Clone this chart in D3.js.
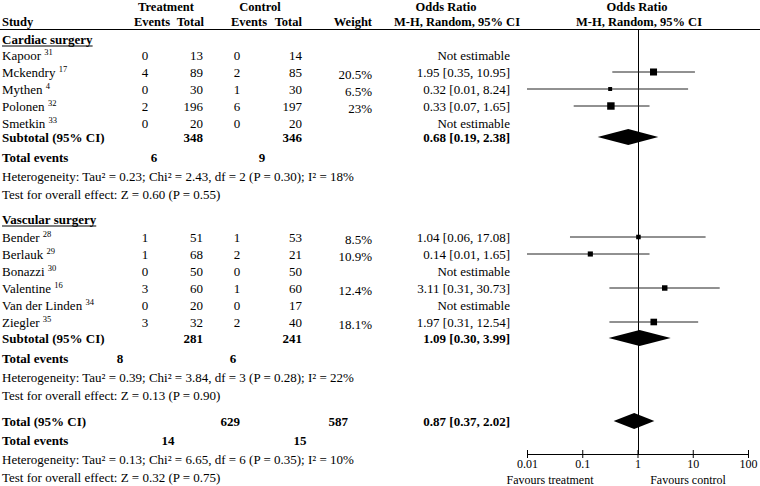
<!DOCTYPE html>
<html><head><meta charset="utf-8">
<script src="https://cdn.jsdelivr.net/npm/d3@7"></script>
<style>
html,body{margin:0;padding:0;background:#fff;}
svg text{font-family:"Liberation Serif","Times New Roman",serif;font-size:13px;fill:#000;}
.b{font-weight:bold;}
.h{font-size:12.5px;}
</style></head>
<body><svg id="c" width="760" height="486" font-family="Liberation Serif, Times New Roman, serif"></svg>
<script>
// ---- data ----
const cardiacStudies = ["Kapoor","Mckendry","Mythen","Polonen","Smetkin"];
const cardiacRefs = ["31","17","4","32","33"];
const cardiacTreatEvents = [0,4,0,2,0];
const cardiacTreatTotal = [13,89,30,196,20];
const cardiacCtrlEvents = [0,2,1,6,0];
const cardiacCtrlTotal = [14,85,30,197,20];
const cardiacWeight = [null,20.5,6.5,23,null];
const cardiacOR = [null,1.95,0.32,0.33,null];
const cardiacLo = [null,0.35,0.01,0.07,null];
const cardiacHi = [null,10.95,8.24,1.65,null];
const cardiacSubtotal = {treatTotal:348, ctrlTotal:346, treatEvents:6, ctrlEvents:9, or:0.68, lo:0.19, hi:2.38,
  het:"Heterogeneity: Tau² = 0.23; Chi² = 2.43, df = 2 (P = 0.30); I² = 18%",
  test:"Test for overall effect: Z = 0.60 (P = 0.55)"};

const vascularStudies = ["Bender","Berlauk","Bonazzi","Valentine","Van der Linden","Ziegler"];
const vascularRefs = ["28","29","30","16","34","35"];
const vascularTreatEvents = [1,1,0,3,0,3];
const vascularTreatTotal = [51,68,50,60,20,32];
const vascularCtrlEvents = [1,2,0,1,0,2];
const vascularCtrlTotal = [53,21,50,60,17,40];
const vascularWeight = [8.5,10.9,null,12.4,null,18.1];
const vascularOR = [1.04,0.14,null,3.11,null,1.97];
const vascularLo = [0.06,0.01,null,0.31,null,0.31];
const vascularHi = [17.08,1.65,null,30.73,null,12.54];
const vascularSubtotal = {treatTotal:281, ctrlTotal:241, treatEvents:8, ctrlEvents:6, or:1.09, lo:0.30, hi:3.99,
  het:"Heterogeneity: Tau² = 0.39; Chi² = 3.84, df = 3 (P = 0.28); I² = 22%",
  test:"Test for overall effect: Z = 0.13 (P = 0.90)"};

const overall = {treatTotal:629, ctrlTotal:587, treatEvents:14, ctrlEvents:15, or:0.87, lo:0.37, hi:2.02,
  het:"Heterogeneity: Tau² = 0.13; Chi² = 6.65, df = 6 (P = 0.35); I² = 10%",
  test:"Test for overall effect: Z = 0.32 (P = 0.75)"};

const tickValues = [0.01,0.1,1,10,100];
const tickLabels = ["0.01","0.1","1","10","100"];

// ---- drawing ----
const svg = d3.select("#c");
const x = d3.scaleLog().domain([0.01,100]).range([527,748]);
const f2 = d3.format(".2f");
const orText = (o,l,h) => `${f2(o)} [${f2(l)}, ${f2(h)}]`;

function txt(xp, y, s, anchor, bold){
  return svg.append("text").attr("x",xp).attr("y",y).attr("text-anchor",anchor||"start")
    .attr("class",bold?"b":null).text(s);
}
function hdr(xp, y, s, anchor){
  return svg.append("text").attr("x",xp).attr("y",y).attr("text-anchor",anchor)
    .attr("class","b h").text(s);
}
const BL = 4.5; // baseline offset from row centre

// header
hdr(166,11,"Treatment","middle");
hdr(260,11,"Control","middle");
hdr(446,11,"Odds Ratio","middle");
hdr(637,11,"Odds Ratio","middle");
hdr(2,25.5,"Study","start");
hdr(152,25.5,"Events","middle");
hdr(204,25.5,"Total","end");
hdr(249,25.5,"Events","middle");
hdr(302,25.5,"Total","end");
hdr(372,25.5,"Weight","end");
hdr(457,25.5,"M-H, Random, 95% CI","middle");
hdr(639,25.5,"M-H, Random, 95% CI","middle");
svg.append("line").attr("x1",0).attr("x2",760).attr("y1",29.5).attr("y2",29.5).attr("stroke","#000").attr("stroke-width",1);

// vertical line of no effect
svg.append("line").attr("x1",Math.round(x(1))+0.5).attr("x2",Math.round(x(1))+0.5).attr("y1",29.5).attr("y2",454)
  .attr("stroke","#000").attr("stroke-width",1);

function heading(y, s){
  const t = txt(2, y+BL, s, "start", true);
  const w = t.node().getComputedTextLength();
  svg.append("line").attr("x1",2).attr("x2",2+w).attr("y1",y+BL+2.5).attr("y2",y+BL+2.5).attr("stroke","#000").attr("stroke-width",1.2);
}

function studyRows(y0, step, names, refs, te, tt, ce, ct, wt, or, lo, hi){
  names.forEach((n,i)=>{
    const y = y0 + i*step, b = y+BL;
    const t = svg.append("text").attr("x",2).attr("y",b);
    t.append("tspan").text(n+" ");
    t.append("tspan").attr("dy",-5).style("font-size","8.5px").text(refs[i]);
    txt(145,b,te[i],"middle");
    txt(203,b,tt[i],"end");
    txt(237,b,ce[i],"middle");
    txt(302,b,ct[i],"end");
    if (wt[i]!=null) txt(372,b+2,wt[i]+"%","end");
    if (or[i]==null) { txt(510,b,"Not estimable","end"); return; }
    txt(510,b,orText(or[i],lo[i],hi[i]),"end");
    svg.append("line").attr("x1",x(Math.max(lo[i],0.01))).attr("x2",x(Math.min(hi[i],100)))
      .attr("y1",y).attr("y2",y).attr("stroke","#222").attr("stroke-width",1);
    const s = Math.sqrt(wt[i])*1.55;
    svg.append("rect").attr("x",x(or[i])-s/2).attr("y",y-s/2).attr("width",s).attr("height",s).attr("fill","#000");
  });
}

function diamond(y, o, l, h){
  const hh = 8;
  svg.append("path").attr("d",`M${x(l)},${y}L${x(o)},${y-hh}L${x(h)},${y}L${x(o)},${y+hh}Z`).attr("fill","#000");
}

function summary(ySub, yEv, yHet, yTest, d, label, cols){
  txt(2,ySub+BL,label,"start",true);
  txt(cols[0],ySub+BL,d.treatTotal,"end",true);
  txt(cols[1],ySub+BL,d.ctrlTotal,"end",true);
  txt(510,ySub+BL,orText(d.or,d.lo,d.hi),"end",true);
  diamond(ySub,d.or,d.lo,d.hi);
  txt(2,yEv+BL,"Total events","start",true);
  txt(cols[2],yEv+BL,d.treatEvents,"middle",true);
  txt(cols[3],yEv+BL,d.ctrlEvents,"middle",true);
  txt(2,yHet+BL,d.het,"start");
  txt(2,yTest+BL,d.test,"start");
}

heading(39,"Cardiac surgery");
studyRows(55,17,cardiacStudies,cardiacRefs,cardiacTreatEvents,cardiacTreatTotal,cardiacCtrlEvents,cardiacCtrlTotal,cardiacWeight,cardiacOR,cardiacLo,cardiacHi);
summary(137,157,176,194,cardiacSubtotal,"Subtotal (95% CI)",[203,302,154,262]);

heading(219,"Vascular surgery");
studyRows(237,17,vascularStudies,vascularRefs,vascularTreatEvents,vascularTreatTotal,vascularCtrlEvents,vascularCtrlTotal,vascularWeight,vascularOR,vascularLo,vascularHi);
summary(338,358,377,395,vascularSubtotal,"Subtotal (95% CI)",[203,302,120,233]);

summary(421,440,459,477,overall,"Total (95% CI)",[240,348,168,300]);

// axis
const ax = svg.append("g").attr("transform","translate(0,454)")
  .call(d3.axisBottom(x).tickValues(tickValues).tickFormat((d,i)=>tickLabels[i]).tickSizeInner(4).tickSizeOuter(0).tickPadding(1));
ax.attr("font-family",null);
ax.select(".domain").attr("stroke","#000");
ax.selectAll(".tick line").attr("y1",-4).attr("y2",4).attr("stroke","#000");
ax.selectAll(".tick text").style("font-size","12px").attr("fill","#000");
svg.append("text").attr("x",550).attr("y",484).attr("text-anchor","middle").style("font-size","12px").text("Favours treatment");
svg.append("text").attr("x",688).attr("y",484).attr("text-anchor","middle").style("font-size","12px").text("Favours control");
</script></body></html>
